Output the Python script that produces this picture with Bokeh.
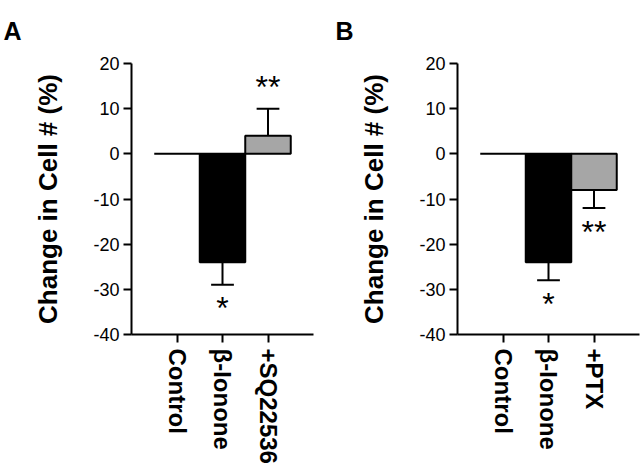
import math
from bokeh.plotting import figure
from bokeh.layouts import row
from bokeh.models import Range1d, FixedTicker
from bokeh.core.properties import value
from bokeh.embed import file_html
from bokeh.resources import INLINE

# ---- data ----
a_categories = ["Control", "β-Ionone", "+SQ22536"]
a_values = [0, -24, 4]
a_errors = [0, 5, 6]
a_signif = ["", "*", "**"]

b_categories = ["Control", "β-Ionone", "+PTX"]
b_values = [0, -24, -8]
b_errors = [0, 4, 4]
b_signif = ["", "*", "**"]

bar_colors = ["white", "black", "#a6a6a6"]
y_ticks = [-40, -30, -20, -10, 0, 10, 20]
y_tick_labels = ["-40", "-30", "-20", "-10", "0", "10", "20"]
y_title = "Change in Cell # (%)"

FONT = "Liberation Sans"
H = 470


def make_panel(letter, cats, vals, errs, signif, width, left, right, letter_offset):
    p = figure(width=width, height=H, x_range=Range1d(-1, 3), y_range=Range1d(-40, 20),
               output_backend="svg", toolbar_location=None,
               min_border_left=left, min_border_right=right,
               min_border_top=62, min_border_bottom=136)
    p.outline_line_color = None
    p.grid.visible = False
    p.background_fill_color = "white"
    p.border_fill_color = "white"

    p.title.text = letter
    p.title.align = "left"
    p.title.vertical_align = "top"
    p.title.offset = letter_offset
    p.title.text_font = FONT
    p.title.text_font_size = "25px"
    p.title.text_font_style = "bold"
    p.title.text_color = "black"
    p.title.standoff = 33

    xs = list(range(len(cats)))
    # error bars (one-sided, away from zero)
    sx, sy0, sy1, cx0, cx1, tx, ty, tt = [], [], [], [], [], [], [], []
    for i, (v, e, s) in enumerate(zip(vals, errs, signif)):
        if e <= 0:
            continue
        sign = 1 if v >= 0 else -1
        end = v + sign * e
        sx.append(i); sy0.append(v); sy1.append(end)
        cx0.append(i - 0.25); cx1.append(i + 0.25)
        if s:
            tx.append(i)
            ty.append(end + (4.8 if sign > 0 else -5.2))
            tt.append(s)
    p.segment(x0=sx, y0=sy0, x1=sx, y1=sy1, line_color="black", line_width=2)
    p.segment(x0=cx0, y0=sy1, x1=cx1, y1=sy1, line_color="black", line_width=2)

    p.vbar(x=xs, width=1, bottom=0, top=vals, fill_color=bar_colors,
           line_color="black", line_width=2)

    p.text(x=tx, y=ty, text=tt, text_font=value(FONT), text_font_size="32px",
           text_align="center", text_baseline="middle", text_color="black")

    # axes
    p.yaxis.ticker = FixedTicker(ticks=y_ticks)
    p.yaxis.major_label_overrides = {t: l for t, l in zip(y_ticks, y_tick_labels)}
    p.xaxis.ticker = FixedTicker(ticks=xs)
    p.xaxis.major_label_overrides = {i: c for i, c in enumerate(cats)}
    p.xaxis.major_label_orientation = -math.pi / 2
    for ax in (p.xaxis, p.yaxis):
        ax.axis_line_width = 2
        ax.axis_line_color = "black"
        ax.major_tick_line_width = 2
        ax.major_tick_line_color = "black"
        ax.major_tick_out = 8
        ax.major_tick_in = 0
        ax.minor_tick_line_color = None
        ax.major_label_text_font = FONT
        ax.major_label_text_color = "black"
    p.yaxis.major_label_text_font_size = "18px"
    p.yaxis.major_label_standoff = 4
    p.xaxis.major_label_text_font_size = "24px"
    p.xaxis.major_label_text_font_style = "bold"
    p.xaxis.major_label_standoff = 6
    p.yaxis.axis_label = y_title
    p.yaxis.axis_label_text_font = FONT
    p.yaxis.axis_label_text_font_size = "26px"
    p.yaxis.axis_label_text_font_style = "bold"
    p.yaxis.axis_label_text_color = "black"
    p.yaxis.axis_label_standoff = 27
    return p


pa = make_panel("A", a_categories, a_values, a_errors, a_signif, 318, 131, 5, -128)
pb = make_panel("B", b_categories, b_values, b_errors, b_signif, 324, 139, 3, -122)

layout = row(pa, pb)
open("out.html", "w").write(file_html(layout, INLINE))
